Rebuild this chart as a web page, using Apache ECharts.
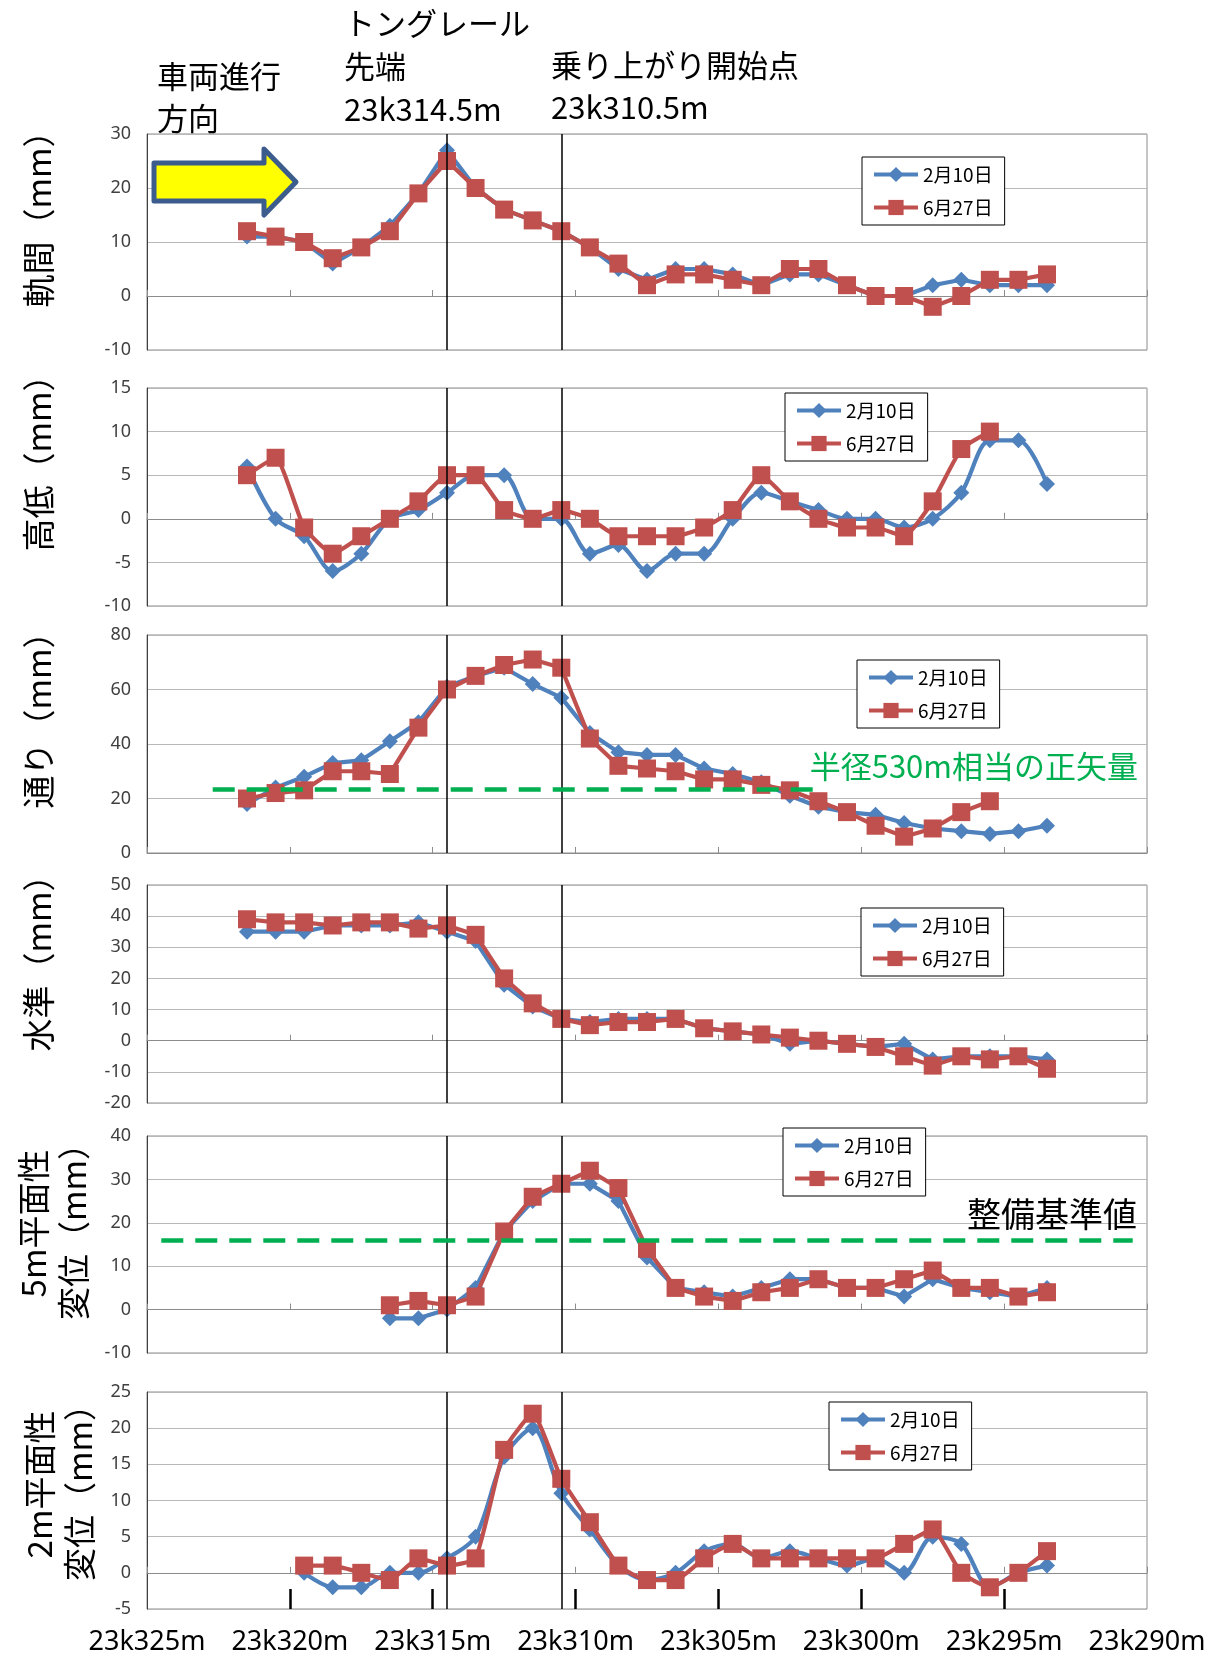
<!DOCTYPE html>
<html>
<head>
<meta charset="utf-8">
<script src="https://cdn.jsdelivr.net/npm/echarts@6/dist/echarts.min.js"></script>
<style>
  html, body { margin: 0; padding: 0; background: #fff; }
  #main { width: 1215px; height: 1659px; }
</style>
</head>
<body>
<div id="main"></div>
<script>
// measuring points (23k + m)
var distances = [321.5, 320.5, 319.5, 318.5, 317.5, 316.5, 315.5, 314.5, 313.5, 312.5,
                 311.5, 310.5, 309.5, 308.5, 307.5, 306.5, 305.5, 304.5, 303.5, 302.5,
                 301.5, 300.5, 299.5, 298.5, 297.5, 296.5, 295.5, 294.5, 293.5];

var seriesNames = ['2月10日', '6月27日'];

// 軌間
var gaugeFeb = [11, 11, 10, 6, 9, 13, 19, 27, 20, 16, 14, 12, 9, 5, 3, 5, 5, 4, 2, 4, 4, 2, 0, 0, 2, 3, 2, 2, 2];
var gaugeJun = [12, 11, 10, 7, 9, 12, 19, 25, 20, 16, 14, 12, 9, 6, 2, 4, 4, 3, 2, 5, 5, 2, 0, 0, -2, 0, 3, 3, 4];
// 高低
var heightFeb = [6, 0, -2, -6, -4, 0, 1, 3, 5, 5, 0, 0, -4, -3, -6, -4, -4, 0, 3, 2, 1, 0, 0, -1, 0, 3, 9, 9, 4];
var heightJun = [5, 7, -1, -4, -2, 0, 2, 5, 5, 1, 0, 1, 0, -2, -2, -2, -1, 1, 5, 2, 0, -1, -1, -2, 2, 8, 10, null, null];
// 通り
var alignFeb = [18, 24, 28, 33, 34, 41, 48, 61, 65, 68, 62, 57, 44, 37, 36, 36, 31, 29, 26, 21, 17, 15, 14, 11, 9, 8, 7, 8, 10];
var alignJun = [20, 22, 23, 30, 30, 29, 46, 60, 65, 69, 71, 68, 42, 32, 31, 30, 27, 27, 25, 23, 19, 15, 10, 6, 9, 15, 19, null, null];
// 水準
var levelFeb = [35, 35, 35, 37, 37, 37, 38, 35, 32, 18, 11, 7, 6, 7, 7, 7, 4, 3, 2, -1, 0, -1, -2, -1, -6, -5, -5, -5, -6];
var levelJun = [39, 38, 38, 37, 38, 38, 36, 37, 34, 20, 12, 7, 5, 6, 6, 7, 4, 3, 2, 1, 0, -1, -2, -5, -8, -5, -6, -5, -9];
// 5m平面性変位
var flat5Feb = [null, null, null, null, null, -2, -2, 0, 5, 18, 25, 29, 29, 25, 12, 5, 4, 3, 5, 7, 7, 5, 5, 3, 7, 5, 4, 3, 5];
var flat5Jun = [null, null, null, null, null, 1, 2, 1, 3, 18, 26, 29, 32, 28, 14, 5, 3, 2, 4, 5, 7, 5, 5, 7, 9, 5, 5, 3, 4];
// 2m平面性変位
var flat2Feb = [null, null, 0, -2, -2, 0, 0, 2, 5, 16, 20, 11, 6, 1, -1, 0, 3, 4, 2, 3, 2, 1, 2, 0, 5, 4, -2, 0, 1];
var flat2Jun = [null, null, 1, 1, 0, -1, 2, 1, 2, 17, 22, 13, 7, 1, -1, -1, 2, 4, 2, 2, 2, 2, 2, 4, 6, 0, -2, 0, 3];

// reference positions
var tongueTip = 314.5;
var climbStart = 310.5;
var versineLevel = 23.4;       // 半径530m相当の正矢量
var versineFrom = 322.7, versineTo = 301.7;
var standard5m = 16;           // 整備基準値
var standardFrom = 324.5, standardTo = 290.5;

var panels = [
  { name: '軌間（mm）', min: -10, max: 30, interval: 10, feb: gaugeFeb, jun: gaugeJun },
  { name: '高低（mm）', min: -10, max: 15, interval: 5, feb: heightFeb, jun: heightJun, smooth: true },
  { name: '通り（mm）', min: 0, max: 80, interval: 20, feb: alignFeb, jun: alignJun },
  { name: '水準（mm）', min: -20, max: 50, interval: 10, feb: levelFeb, jun: levelJun },
  { name: '5m平面性\n変位（mm）', min: -10, max: 40, interval: 10, feb: flat5Feb, jun: flat5Jun },
  { name: '2m平面性\n変位（mm）', min: -5, max: 25, interval: 5, feb: flat2Feb, jun: flat2Jun, smooth: true }
];

// layout
var gridTops = [134, 388, 635, 885, 1136, 1392];
var gridHeights = [216, 218, 218, 218, 217, 217];
var nameShift = [62, 84, 64, 78, 42, 32];
var legendPos = [[862, 157], [785, 393], [857, 660], [861, 908], [783, 1128], [829, 1402]];

function pairs(xs, ys) {
  var out = [];
  for (var i = 0; i < xs.length; i++) {
    if (ys[i] !== null) out.push([xs[i], ys[i]]);
  }
  return out;
}

var chart = echarts.init(document.getElementById('main'));

var grid = [], xAxis = [], yAxis = [], series = [], legend = [];

panels.forEach(function (p, k) {
  var twoLine = p.name.indexOf('\n') >= 0;
  grid.push({
    left: 147, width: 1000, top: gridTops[k], height: gridHeights[k],
    show: true, borderColor: '#8c8c8c', borderWidth: 1, backgroundColor: '#fff'
  });
  xAxis.push({
    type: 'value', gridIndex: k, min: 290, max: 325, interval: 5, inverse: true,
    axisLine: { show: true, onZero: true, lineStyle: { color: '#8c8c8c', width: 1 } },
    axisTick: { show: true, inside: true, length: 6, lineStyle: { color: '#8c8c8c' } },
    axisLabel: { show: false },
    splitLine: { show: false }
  });
  yAxis.push({
    type: 'value', gridIndex: k, min: p.min, max: p.max, interval: p.interval,
    name: p.name, nameLocation: 'middle', nameRotate: 90,
    nameGap: twoLine ? 37 : 89,
    nameTextStyle: {
      fontFamily: 'Noto Sans CJK JP', fontSize: 33, color: '#000',
      lineHeight: 40, padding: [0, 0, 0, nameShift[k]]
    },
    axisLine: { show: true, lineStyle: { color: '#404040', width: 1 } },
    axisTick: { show: false },
    axisLabel: { fontFamily: 'Noto Sans', fontSize: 18, color: '#404040', margin: 16 },
    splitLine: { lineStyle: { color: '#b8b8b8', width: 1 } }
  });

  var markData = [{ xAxis: tongueTip }, { xAxis: climbStart }];
  var dashStyle = { color: '#00B050', width: 4.5, type: [22, 12] };
  if (k === 2) {
    markData.push([{ coord: [versineFrom, versineLevel], lineStyle: dashStyle },
                   { coord: [versineTo, versineLevel] }]);
  }
  if (k === 4) {
    markData.push([{ coord: [standardFrom, standard5m], lineStyle: dashStyle },
                   { coord: [standardTo, standard5m] }]);
  }

  series.push({
    type: 'line', name: seriesNames[0], xAxisIndex: k, yAxisIndex: k,
    data: pairs(distances, p.feb),
    smooth: p.smooth ? 0.3 : false,
    symbol: 'diamond', symbolSize: 16,
    lineStyle: { color: '#4F81BD', width: 4.2 },
    itemStyle: { color: '#4F81BD' },
    z: 2
  });
  series.push({
    type: 'line', name: seriesNames[1], xAxisIndex: k, yAxisIndex: k,
    data: pairs(distances, p.jun),
    smooth: p.smooth ? 0.15 : false,
    symbol: 'rect', symbolSize: 18,
    lineStyle: { color: '#C0504D', width: 4.2 },
    itemStyle: { color: '#C0504D' },
    z: 3,
    markLine: {
      silent: true, symbol: ['none', 'none'], animation: false,
      label: { show: false },
      lineStyle: { color: '#000', width: 1.5, type: 'solid' },
      emphasis: { disabled: true },
      data: markData
    }
  });

  legend.push({
    data: seriesNames, orient: 'vertical',
    left: legendPos[k][0], top: legendPos[k][1],
    backgroundColor: '#fff', borderColor: '#000', borderWidth: 1, borderRadius: 0,
    padding: [8, 12, 8, 10], itemGap: 14, itemWidth: 44, itemHeight: 19,
    lineStyle: { width: 4 },
    textStyle: { fontFamily: 'Noto Sans CJK JP', fontSize: 19, color: '#000' },
    selectedMode: false
  });
});

// distance labels under the last panel
xAxis.push({
  type: 'value', gridIndex: 5, min: 290, max: 325, interval: 5, inverse: true,
  position: 'bottom',
  axisLine: { show: false, onZero: false },
  axisTick: { show: true, inside: true, length: 20, customValues: [320, 315, 310, 305, 300, 295],
              lineStyle: { color: '#000', width: 2.5 } },
  axisLabel: {
    show: true, margin: 20, fontFamily: 'Noto Sans', fontSize: 27, color: '#000',
    showMinLabel: true, showMaxLabel: true,
    formatter: function (v) { return '23k' + v + 'm'; }
  },
  splitLine: { show: false }
});

var textFont = '31px "Noto Sans CJK JP"';

var option = {
  animation: false,
  backgroundColor: '#fff',
  textStyle: { fontFamily: 'Noto Sans' },
  grid: grid,
  xAxis: xAxis,
  yAxis: yAxis,
  legend: legend,
  series: series,
  graphic: [
    {
      type: 'polygon', z: 100,
      shape: { points: [[154, 163], [264, 163], [264, 149], [296, 182], [264, 215], [264, 201], [154, 201]] },
      style: { fill: '#FFFF00', stroke: '#3B5C8C', lineWidth: 5, lineJoin: 'round' }
    },
    { type: 'text', x: 157, y: 55, z: 100,
      style: { text: '車両進行\n方向', font: textFont, lineHeight: 42, fill: '#000' } },
    { type: 'text', x: 344, y: 2, z: 100,
      style: { text: 'トングレール\n先端\n23k314.5m', font: textFont, lineHeight: 43, fill: '#000' } },
    { type: 'text', x: 551, y: 44, z: 100,
      style: { text: '乗り上がり開始点\n23k310.5m', font: textFont, lineHeight: 42, fill: '#000' } },
    { type: 'text', x: 1138, y: 766, z: 100,
      style: { text: '半径530m相当の正矢量', font: '31px "Noto Sans CJK JP"', fill: '#00B050',
               align: 'right', verticalAlign: 'middle' } },
    { type: 'text', x: 1137, y: 1214, z: 100,
      style: { text: '整備基準値', font: '34px "Noto Sans CJK JP"', fill: '#000',
               align: 'right', verticalAlign: 'middle' } }
  ]
};

chart.setOption(option);
</script>
</body>
</html>
